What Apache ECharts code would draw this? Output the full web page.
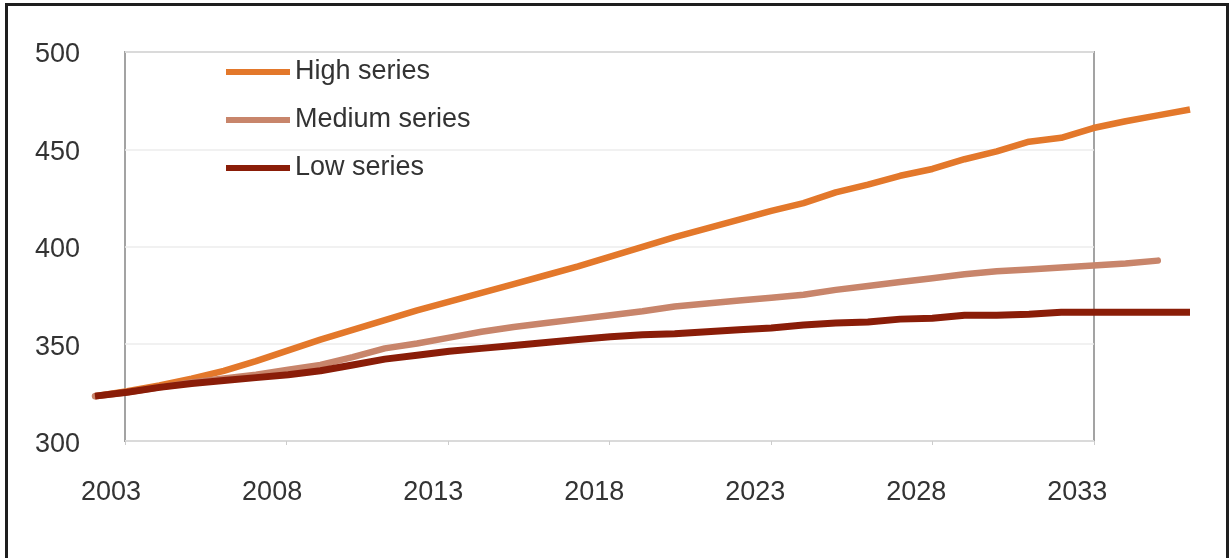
<!DOCTYPE html>
<html>
<head>
<meta charset="utf-8">
<title>Series projections</title>
<script src="https://cdn.jsdelivr.net/npm/echarts@6/dist/echarts.min.js"></script>
<style>
  html, body { margin: 0; padding: 0; background: #ffffff; }
  #chart { width: 1229px; height: 558px; }
</style>
</head>
<body>
<div id="chart"></div>
<script>
// Mid-year positions of the projection points
const years = [2002.5, 2003.5, 2004.5, 2005.5, 2006.5, 2007.5, 2008.5, 2009.5, 2010.5, 2011.5,
               2012.5, 2013.5, 2014.5, 2015.5, 2016.5, 2017.5, 2018.5, 2019.5, 2020.5, 2021.5,
               2022.5, 2023.5, 2024.5, 2025.5, 2026.5, 2027.5, 2028.5, 2029.5, 2030.5, 2031.5,
               2032.5, 2033.5, 2034.5, 2035.5, 2036.5];

const highSeries = [323, 325.5, 328.5, 332, 336, 341, 346.5, 352, 357, 362,
                    367, 371.5, 376, 380.5, 385, 389.5, 394.5, 399.5, 404.5, 409,
                    413.5, 418, 422, 427.5, 431.5, 436, 439.5, 444.5, 448.5, 453.5,
                    455.5, 460.5, 464, 467, 470];

const mediumSeries = [323, 325, 327.5, 330, 332, 334, 336.5, 339, 343, 347.5,
                      350, 353, 356, 358.5, 360.5, 362.5, 364.5, 366.5, 369, 370.5,
                      372, 373.5, 375, 377.5, 379.5, 381.5, 383.5, 385.5, 387, 388,
                      389, 390, 391, 392.5];

const lowSeries = [323, 325, 327.5, 329.5, 331, 332.5, 334, 336, 339, 342,
                   344, 346, 347.5, 349, 350.5, 352, 353.5, 354.5, 355, 356,
                   357, 358, 359.5, 360.5, 361, 362.5, 363, 364.5, 364.5, 365,
                   366, 366, 366, 366, 366];

const xTickLabels = [2003, 2008, 2013, 2018, 2023, 2028, 2033];
const yTicks = { min: 300, max: 500, step: 50 };

const pairs = (vals) => vals.map((v, i) => [years[i], v]);

const FONT = "'Liberation Sans', Arial, sans-serif";
const TEXT = '#333333';

const chart = echarts.init(document.getElementById('chart'), null, { renderer: 'canvas' });

chart.setOption({
  animation: false,
  backgroundColor: '#ffffff',
  textStyle: { fontFamily: FONT },
  graphic: [{
    type: 'rect',
    silent: true,
    shape: { x: 6.5, y: 4.5, width: 1221, height: 620 },
    style: { fill: 'none', stroke: '#1e1e1e', lineWidth: 3 }
  }],
  legend: {
    orient: 'vertical',
    left: 226,
    top: 58,
    padding: 0,
    icon: 'rect',
    itemWidth: 64,
    itemHeight: 6,
    itemGap: 20,
    selectedMode: false,
    textStyle: { fontFamily: FONT, fontSize: 27, lineHeight: 28, color: TEXT },
    data: ['High series', 'Medium series', 'Low series']
  },
  grid: [
    // framed plotting box
    { left: 125, right: 135, top: 52, height: 389, show: true,
      borderColor: '#a3a3a3', borderWidth: 2, backgroundColor: 'transparent' },
    // area in which the series are drawn
    { left: 95, right: 39, top: 51, height: 390 }
  ],
  xAxis: [
    { gridIndex: 0, type: 'value', min: 0, max: 30, interval: 5,
      axisLine: { show: false },
      axisTick: { show: true, length: 4, lineStyle: { color: '#cccccc', width: 1 } },
      axisLabel: { show: false },
      splitLine: { show: false } },
    { gridIndex: 1, type: 'value', min: 2002.5, max: 2036.5,
      axisLine: { show: false },
      axisTick: { show: false },
      splitLine: { show: false },
      axisLabel: {
        customValues: xTickLabels,
        formatter: (v) => String(v),
        margin: 38,
        fontFamily: FONT, fontSize: 27, color: TEXT
      } }
  ],
  yAxis: [
    { gridIndex: 0, type: 'value', min: yTicks.min, max: yTicks.max, interval: yTicks.step,
      axisLine: { show: false }, axisTick: { show: false }, axisLabel: { show: false },
      splitLine: { show: true, lineStyle: { color: '#ececec', width: 1.5 } } },
    { gridIndex: 1, type: 'value', min: yTicks.min, max: yTicks.max, interval: yTicks.step,
      axisLine: { show: false }, axisTick: { show: false },
      splitLine: { show: false },
      axisLabel: { margin: 15, fontFamily: FONT, fontSize: 27, color: TEXT,
                   verticalAlign: 'top', lineHeight: 8 } }
  ],
  series: [
    { name: 'High series', type: 'line', xAxisIndex: 1, yAxisIndex: 1,
      data: pairs(highSeries), showSymbol: false, symbol: 'none',
      itemStyle: { color: '#E3782B' },
      lineStyle: { color: '#E3782B', width: 6.5, join: 'round' } },
    { name: 'Medium series', type: 'line', xAxisIndex: 1, yAxisIndex: 1,
      data: pairs(mediumSeries), showSymbol: false, symbol: 'none',
      itemStyle: { color: '#C8856B' },
      lineStyle: { color: '#C8856B', width: 6.5, join: 'round', cap: 'round' } },
    { name: 'Low series', type: 'line', xAxisIndex: 1, yAxisIndex: 1,
      data: pairs(lowSeries), showSymbol: false, symbol: 'none',
      itemStyle: { color: '#8A1D08' },
      lineStyle: { color: '#8A1D08', width: 7, join: 'round' } }
  ]
});
</script>
</body>
</html>
